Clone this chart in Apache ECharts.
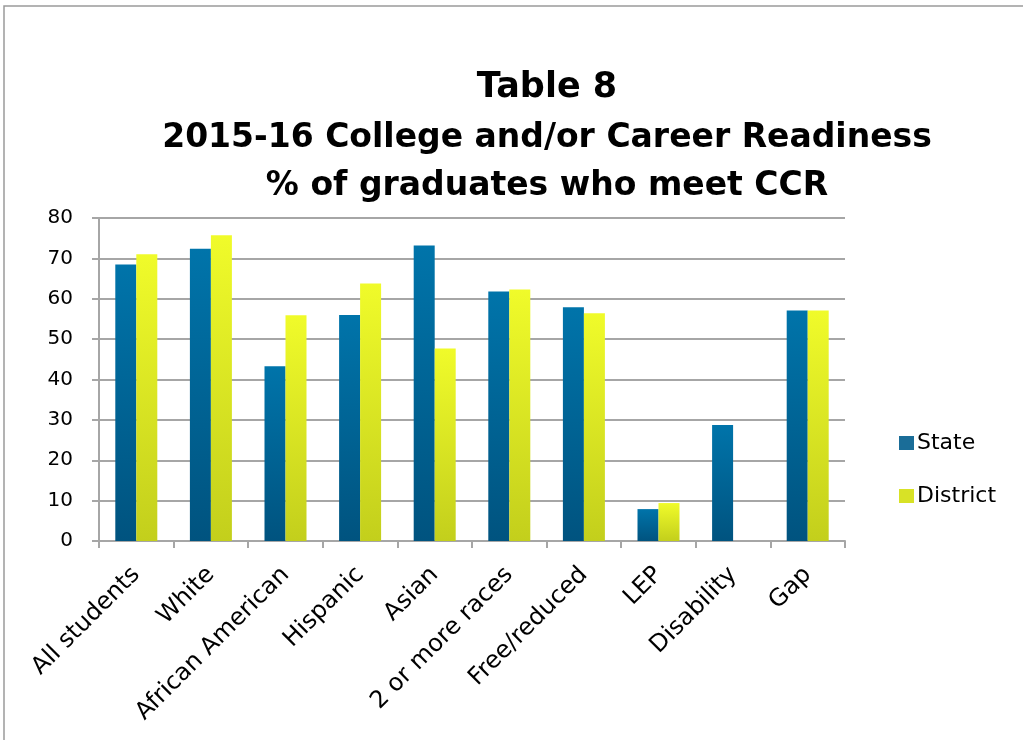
<!DOCTYPE html>
<html>
<head>
<meta charset="utf-8">
<title>Table 8</title>
<script src="https://cdn.jsdelivr.net/npm/echarts@6/dist/echarts.min.js"></script>
<style>
  html, body { margin: 0; padding: 0; background: #ffffff; }
  #chart { width: 1023px; height: 740px; }
</style>
</head>
<body>
<div id="chart"></div>
<script>
// Student groups along the horizontal axis
const categories = ['All students', 'White', 'African American', 'Hispanic', 'Asian',
  '2 or more races', 'Free/reduced', 'LEP', 'Disability', 'Gap'];

// Percent of graduates meeting CCR
const stateValues = [68.5, 72.4, 43.3, 56.0, 73.2, 61.8, 57.9, 7.9, 28.7, 57.1];
const districtValues = [71.0, 75.7, 55.9, 63.8, 47.7, 62.3, 56.4, 9.4, null, 57.1];

const yTicks = { min: 0, max: 80, interval: 10 };

const titleLines = ['Table 8', '2015-16 College and/or Career Readiness', '% of graduates who meet CCR'];

const FONT = '"DejaVu Sans", Verdana, sans-serif';
const GRID_GRAY = '#a6a6a6';

const stateFill = new echarts.graphic.LinearGradient(0, 0, 0, 1, [
  { offset: 0, color: '#0074aa' },
  { offset: 1, color: '#00537f' }
]);
const districtFill = new echarts.graphic.LinearGradient(0, 0, 0, 1, [
  { offset: 0, color: '#f0fb2a' },
  { offset: 1, color: '#c3cf1c' }
]);

const chart = echarts.init(document.getElementById('chart'), null, { renderer: 'canvas' });

chart.setOption({
  backgroundColor: '#ffffff',
  animation: false,
  graphic: [
    {
      type: 'rect',
      silent: true,
      shape: { x: 4, y: 6, width: 1100, height: 800 },
      style: { fill: 'none', stroke: '#9a9a9a', lineWidth: 1.5 }
    },
    {
      type: 'text', x: 547, y: 88, silent: true,
      style: { text: titleLines[0], font: 'bold 35px ' + FONT, fill: '#000000',
        align: 'center', verticalAlign: 'middle' }
    },
    {
      type: 'text', x: 547, y: 138, silent: true,
      style: { text: titleLines[1], font: 'bold 33px ' + FONT, fill: '#000000',
        align: 'center', verticalAlign: 'middle' }
    },
    {
      type: 'text', x: 547, y: 186, silent: true,
      style: { text: titleLines[2], font: 'bold 33px ' + FONT, fill: '#000000',
        align: 'center', verticalAlign: 'middle' }
    }
  ],
  legend: {
    orient: 'vertical',
    left: 894,
    top: 427,
    itemWidth: 15,
    itemHeight: 14,
    itemGap: 31,
    icon: 'rect',
    textStyle: { fontFamily: FONT, fontSize: 22, color: '#000000', lineHeight: 22, padding: [0, 0, 0, -2] },
    data: [
      { name: 'State', itemStyle: { color: '#1a6d98' } },
      { name: 'District', itemStyle: { color: '#d8e226' } }
    ]
  },
  grid: { left: 99, right: 178, top: 218, bottom: 199, containLabel: false },
  xAxis: {
    type: 'category',
    data: categories,
    boundaryGap: true,
    axisLine: { show: true, lineStyle: { color: GRID_GRAY, width: 2 } },
    axisTick: { show: true, alignWithLabel: false, length: 7, lineStyle: { color: GRID_GRAY, width: 2 } },
    axisLabel: {
      rotate: 45,
      interval: 0,
      margin: 30,
      fontFamily: FONT,
      fontSize: 24,
      color: '#000000'
    },
    splitLine: { show: false }
  },
  yAxis: {
    type: 'value',
    min: yTicks.min,
    max: yTicks.max,
    interval: yTicks.interval,
    axisLine: { show: true, lineStyle: { color: GRID_GRAY, width: 2 } },
    axisTick: { show: true, length: 7, lineStyle: { color: GRID_GRAY, width: 2 } },
    axisLabel: { margin: 26, fontFamily: FONT, fontSize: 20, color: '#000000' },
    splitLine: { show: true, lineStyle: { color: GRID_GRAY, width: 2 } }
  },
  series: [
    {
      name: 'State',
      type: 'bar',
      data: stateValues,
      barWidth: 21,
      barGap: '0%',
      itemStyle: { color: stateFill }
    },
    {
      name: 'District',
      type: 'bar',
      data: districtValues,
      barWidth: 21,
      barGap: '0%',
      itemStyle: { color: districtFill }
    }
  ]
});
</script>
</body>
</html>
